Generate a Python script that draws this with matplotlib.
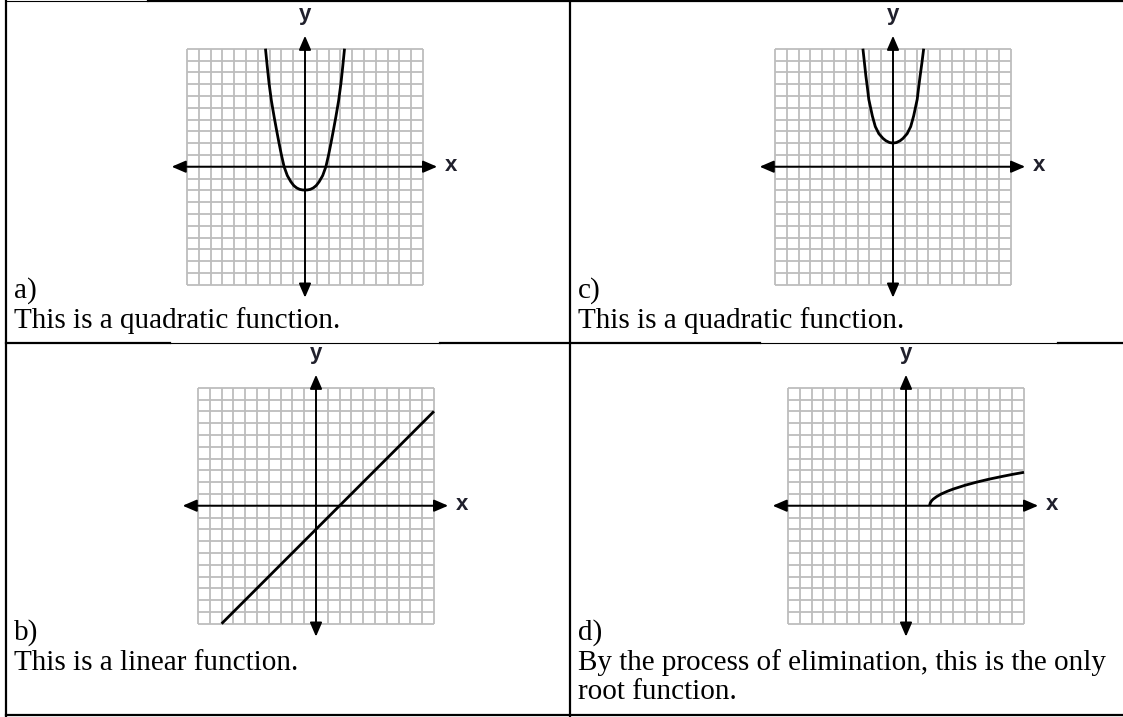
# four function graphs in a 2x2 table

import matplotlib.pyplot as plt
import numpy as np
from matplotlib.patches import FancyArrowPatch

W, H = 1123, 717

# curves (grid units, -10..10)
quad_a_x = [-3.35, -3.2, -3.05, -2.85, -2.62, -2.4, -2.2, -2.0, -1.77, -1.5, -1.2, -0.95, -0.7, -0.45, -0.2, 0,
			0.2, 0.45, 0.7, 0.95, 1.2, 1.5, 1.77, 2.0, 2.2, 2.4, 2.62, 2.85, 3.05, 3.2, 3.35]
quad_a_y = [10, 8.5, 7.1, 5.6, 4.25, 3.05, 2.0, 1.0, 0, -0.75, -1.27, -1.6, -1.8, -1.92, -1.97, -1.98,
			-1.97, -1.92, -1.8, -1.6, -1.27, -0.75, 0, 1.0, 2.0, 3.05, 4.25, 5.6, 7.1, 8.5, 10]

quad_c_x = [-2.55, -2.42, -2.3, -2.17, -2.05, -1.9, -1.75, -1.5, -1.2, -0.85, -0.6, -0.3, 0,
			0.3, 0.6, 0.85, 1.2, 1.5, 1.75, 1.9, 2.05, 2.17, 2.3, 2.45, 2.6]
quad_c_y = [10, 8.8, 7.7, 6.7, 5.7, 5.0, 4.3, 3.4, 2.8, 2.4, 2.2, 2.05, 2.0,
			2.05, 2.2, 2.4, 2.8, 3.4, 4.3, 5.0, 5.7, 6.7, 7.7, 8.8, 10]

line_b_x = [-8, 10]
line_b_y = [-10, 8]

root_d_x = [2, 2.05, 2.15, 2.3, 2.6, 3, 3.5, 4, 5, 6, 7, 8, 9, 10]
root_d_y = [0, 0.22, 0.39, 0.55, 0.77, 1.0, 1.22, 1.41, 1.73, 2.0, 2.24, 2.45, 2.65, 2.83]

labels = ["a)", "c)", "b)", "d)"]
captions = [
	["This is a quadratic function."],
	["This is a quadratic function."],
	["This is a linear function."],
	["By the process of elimination, this is the only", "root function."],
]

SCALE = 11.8  # pixels per grid unit


def graph(fig, cx, cy, xs, ys):
	left = (cx - 10 * SCALE) / W
	bottom = 1 - (cy + 10 * SCALE) / H
	ax = fig.add_axes([left, bottom, 20 * SCALE / W, 20 * SCALE / H])
	ax.set_xlim(-10, 10)
	ax.set_ylim(-10, 10)
	ax.axis("off")
	ticks = np.arange(-10, 11)
	ax.vlines(ticks, -10, 10, color="#bdbdbd", lw=1.3, zorder=1, clip_on=False)
	ax.hlines(ticks, -10, 10, color="#bdbdbd", lw=1.3, zorder=1, clip_on=False)
	style = "<|-|>,head_length=0.65,head_width=0.28"
	ax.add_patch(FancyArrowPatch((-11.3, 0), (11.2, 0), arrowstyle=style, mutation_scale=13,
								 color="black", lw=1.4, zorder=2, clip_on=False, shrinkA=0, shrinkB=0))
	ax.add_patch(FancyArrowPatch((0, -11.1), (0, 11.1), arrowstyle=style, mutation_scale=13,
								 color="black", lw=1.4, zorder=2, clip_on=False, shrinkA=0, shrinkB=0))
	ax.text(11.85, 0.1, "x", fontsize=16, fontweight="bold", family="Liberation Sans", color="#20202c",
			ha="left", va="center", clip_on=False)
	ax.text(0, 12.45, "y", fontsize=16, fontweight="bold", family="Liberation Sans", color="#20202c",
			ha="center", va="baseline", clip_on=False)
	ax.plot(xs, ys, color="black", lw=2.0, zorder=3, clip_on=False,
			solid_joinstyle="round", solid_capstyle="butt")


fig = plt.figure(figsize=(W / 100, H / 100), dpi=100)
table = fig.add_axes([0, 0, 1, 1])
table.set_xlim(0, W)
table.set_ylim(H, 0)
table.axis("off")

thick, thin = 1.6, 0.8
table.plot([6, 6], [0, 716], color="black", lw=thick)
table.plot([570, 570], [0, 716], color="black", lw=thick)
table.plot([6, W], [715, 715], color="black", lw=thick)
table.plot([6, 148], [1, 1], color="black", lw=thin)
table.plot([148, W], [1, 1], color="black", lw=thick)
for x0, x1, lw in [(6, 170, thick), (170, 440, thin), (440, 760, thick), (760, 1058, thin), (1058, W, thick)]:
	table.plot([x0, x1], [343, 343], color="black", lw=lw)

text_x = [14, 578, 14, 578]
text_y = [298, 298, 640, 640]
for i in range(4):
	table.text(text_x[i], text_y[i], labels[i], fontsize=21, family="Liberation Serif", va="baseline")
	for j, line in enumerate(captions[i]):
		table.text(text_x[i], text_y[i] + 29.5 * (j + 1), line, fontsize=21,
				   family="Liberation Serif", va="baseline")

graph(fig, 305, 166.7, quad_a_x, quad_a_y)
graph(fig, 893, 166.7, quad_c_x, quad_c_y)
graph(fig, 316, 505.7, line_b_x, line_b_y)
graph(fig, 906, 505.7, root_d_x, root_d_y)

fig.savefig("out.png", dpi=100)
